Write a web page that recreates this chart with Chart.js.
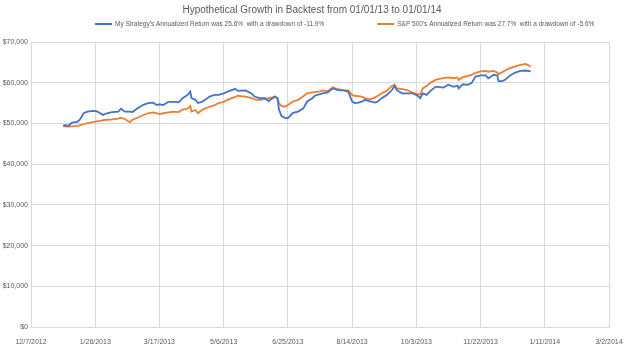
<!DOCTYPE html>
<html>
<head>
<meta charset="utf-8">
<script src="https://cdn.jsdelivr.net/npm/chart.js@4/dist/chart.umd.min.js"></script>
<style>
  html, body { margin: 0; padding: 0; background: #fff; }
  #wrap { width: 624px; height: 363px; }
</style>
</head>
<body>
<div id="wrap"><canvas id="grafico"></canvas></div>
<script>
// Datas do backtest (2013, m/d)
const dates = [
  "1/1","1/3","1/5","1/8","1/12","1/14","1/17","1/20","1/24","1/27","1/30",
  "2/1","2/4","2/8","2/13","2/15","2/18","2/22","2/24","2/28",
  "3/4","3/8","3/12","3/15","3/17","3/20","3/24","3/28",
  "4/1","4/4","4/6","4/8","4/10","4/11","4/14","4/16","4/19","4/22","4/25","4/29",
  "5/2","5/6","5/9","5/15","5/17","5/23","5/28","5/30",
  "6/3","6/7","6/10","6/13","6/15","6/17","6/18","6/20","6/23","6/25","6/29",
  "7/3","7/7","7/10","7/14","7/16","7/20","7/22","7/26","7/30",
  "8/3","8/7","8/11","8/14","8/16","8/19","8/22","8/24","8/28",
  "9/1","9/3","9/6","9/10","9/14","9/16","9/18","9/22","9/26","9/30",
  "10/4","10/6","10/8","10/11","10/14","10/18","10/20","10/24","10/28",
  "11/1","11/4","11/5","11/8","11/12","11/15","11/18","11/22","11/26","11/28",
  "12/2","12/5","12/6","12/9","12/11","12/15","12/19","12/23","12/27","12/31"
];

// Minha estratégia
const strategy = [
  49500,49600,49400,50200,50400,50900,52500,52900,53100,53000,52500,
  52100,52500,52800,52900,53600,52900,52900,52800,53700,
  54500,55000,55100,54500,54700,54500,55300,55300,
  55200,56200,56600,57000,57800,56200,55800,55000,55300,55900,56600,57000,
  57000,57400,57800,58500,58000,58100,57300,56600,
  56200,56200,55500,56200,56600,56200,53500,51800,51300,51300,52600,
  52900,53700,55400,56200,56800,57200,57400,57600,58600,
  58200,58100,57800,55400,55000,55100,55400,55800,55400,
  55100,55400,56200,57000,58200,59200,58100,57400,57400,57400,
  56800,56200,57400,57000,58000,59000,59000,58800,59500,
  59000,59300,58600,59600,59500,59900,61500,61800,61800,61100,
  61900,61800,60400,60400,60700,61800,62500,62900,63000,62800
];

// S&P 500
const sp500 = [
  49300,49300,49200,49300,49400,49500,49800,50100,50300,50500,50600,
  50800,50900,51000,51200,51400,51100,50300,50900,51400,
  52000,52500,52700,52500,52300,52500,52700,52900,
  52800,53400,53500,53700,54300,52900,53300,52500,53300,53700,54100,54500,
  55000,55300,55800,56500,56800,56600,56200,55900,
  55800,56000,56200,56400,56600,56000,55000,54300,54100,54500,55400,
  55800,56700,57400,57600,57700,57900,58100,57900,58900,
  58400,58200,58100,57000,56800,56700,56500,56200,55900,
  56400,56800,57400,58000,59200,59500,58600,58400,58200,57600,
  57200,57100,58600,59200,60000,60700,60900,61100,61300,
  61100,61300,60700,61300,61700,61900,62400,62800,62900,62700,
  62900,62500,62100,62600,63000,63600,64000,64400,64600,64000
];

const seriesLabels = [
  "My Strategy's Annualized Return was 25.6%  with a drawdown of -11.9%",
  "S&P 500's Annualized Return was 27.7%  with a drawdown of -5.6%"
];

// data serial estilo Excel
const EPOCH = Date.UTC(1899, 11, 30);
function toSerial(md) {
  const [m, d] = md.split("/").map(Number);
  return (Date.UTC(2013, m - 1, d) - EPOCH) / 86400000;
}
function serialToText(v) {
  const dt = new Date(EPOCH + v * 86400000);
  return (dt.getUTCMonth() + 1) + "/" + dt.getUTCDate() + "/" + dt.getUTCFullYear();
}

const fonte = "'Liberation Sans', Arial, sans-serif";

// Legenda desenhada à mão (espaçamento largo entre os itens, como no Excel)
const legenda = {
  id: "legenda",
  afterDraw(chart) {
    const ctx = chart.ctx;
    ctx.save();
    ctx.font = "6.5px " + fonte;
    ctx.textBaseline = "middle";
    const itens = chart.data.datasets;
    const linha = 17, espaco = 3, gap = 53;
    let x = 95;
    const y = 24;
    itens.forEach((ds) => {
      ctx.strokeStyle = ds.borderColor;
      ctx.lineWidth = 2;
      ctx.beginPath();
      ctx.moveTo(x, y);
      ctx.lineTo(x + linha, y);
      ctx.stroke();
      ctx.fillStyle = "#595959";
      ctx.fillText(ds.label, x + linha + espaco, y + 0.5);
      x += linha + espaco + ctx.measureText(ds.label).width + gap;
    });
    ctx.restore();
  },
};

let grafico = new Chart(document.getElementById("grafico"), {
  type: "line",
  data: {
    datasets: [
      {
        label: seriesLabels[0],
        data: dates.map((d, i) => ({ x: toSerial(d), y: strategy[i] })),
        borderColor: "#4472C4",
        backgroundColor: "#4472C4",
        borderWidth: 1.8,
        pointRadius: 0,
      },
      {
        label: seriesLabels[1],
        data: dates.map((d, i) => ({ x: toSerial(d), y: sp500[i] })),
        borderColor: "#ED7D31",
        backgroundColor: "#ED7D31",
        borderWidth: 1.8,
        pointRadius: 0,
      },
    ],
  },
  plugins: [legenda],
  options: {
    responsive: true,
    maintainAspectRatio: false,
    animation: false,
    layout: { padding: { left: 0, right: 0, top: 0, bottom: 0 } },
    plugins: {
      title: {
        display: true,
        text: "Hypothetical Growth in Backtest from 01/01/13 to 01/01/14",
        color: "#595959",
        font: { family: fonte, size: 10, weight: "normal", lineHeight: 1.2 },
        padding: { top: 4, bottom: 26 },
      },
      legend: { display: false },
      tooltip: { enabled: false },
    },
    scales: {
      x: {
        type: "linear",
        min: 41250,
        max: 41700,
        ticks: {
          stepSize: 50,
          padding: 11,
          color: "#595959",
          font: { family: fonte, size: 7 },
          maxRotation: 0,
          callback: (v) => serialToText(v),
        },
        grid: { color: "#d9d9d9", drawTicks: false },
        border: { color: "#d9d9d9" },
        afterFit: (s) => {
          s.height = 36;
          s.paddingLeft = 15;
          s.paddingRight = 15;
        },
      },
      y: {
        min: 0,
        max: 70000,
        ticks: {
          stepSize: 10000,
          color: "#595959",
          font: { family: fonte, size: 7 },
          callback: (v) => "$" + v.toLocaleString("en-US"),
        },
        grid: { color: "#d9d9d9", drawTicks: false },
        border: { display: false },
        afterFit: (s) => { s.width = 31; },
      },
    },
  },
});
</script>
</body>
</html>
